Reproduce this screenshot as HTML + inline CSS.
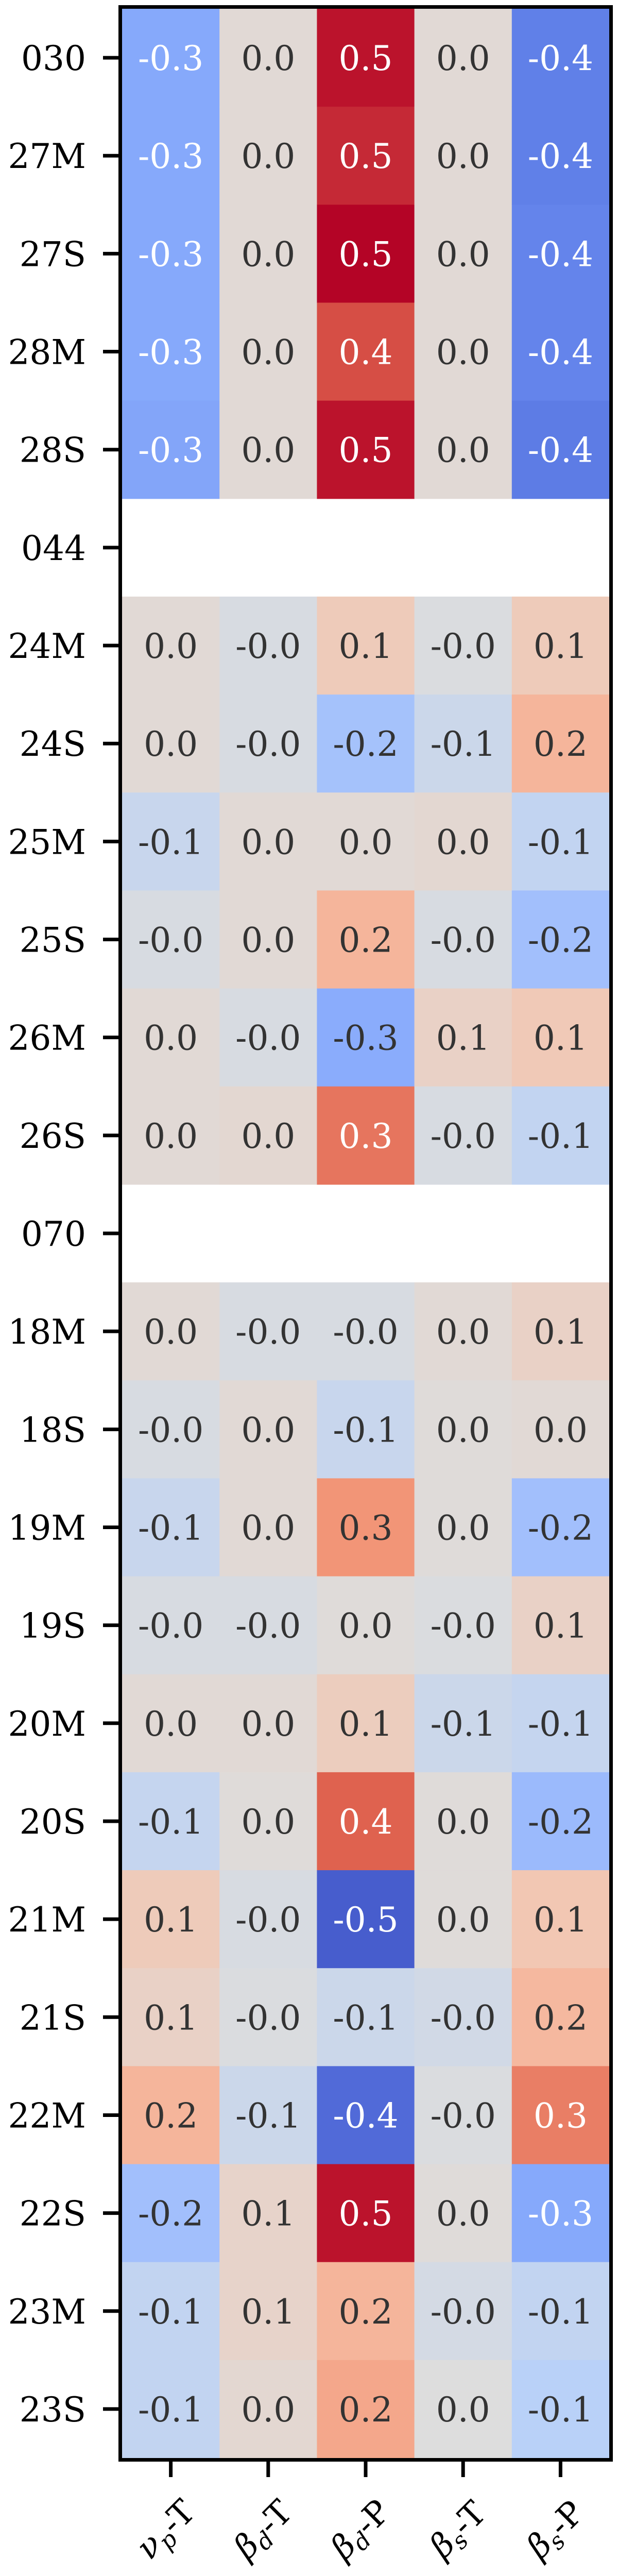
<!DOCTYPE html>
<html><head><meta charset="utf-8">
<style>
html,body{margin:0;padding:0;background:#fff;width:1200px;height:5004px;overflow:hidden;}
svg{display:block;}
text{font-family:"DejaVu Serif","Liberation Serif",serif;}
</style></head>
<body>
<svg id="chart" xmlns="http://www.w3.org/2000/svg" width="1200" height="5004" viewBox="0 0 1200 5004">
<rect x="0" y="0" width="1200" height="5004" fill="#fff"/>
<g id="cells"></g>
<g id="yaxis"></g>
<g id="xaxis"></g>
<rect x="233.5" y="13.5" width="953" height="4761" fill="none" stroke="#000" stroke-width="7"/>
</svg>
<script>
const rowLabels = ["030","27M","27S","28M","28S","044","24M","24S","25M","25S","26M","26S","070","18M","18S","19M","19S","20M","20S","21M","21S","22M","22S","23M","23S"];
const colLabels = [["ν","p","-T"],["β","d","-T"],["β","d","-P"],["β","s","-T"],["β","s","-P"]];
const colVT  = [-0.27,-0.27,-0.27,-0.27,-0.28,null, 0.02, 0.02,-0.07,-0.02, 0.02, 0.02,null, 0.02,-0.02,-0.07,-0.02, 0.02,-0.08, 0.09, 0.06, 0.17,-0.19,-0.09,-0.09];
const colBdT = [ 0.02, 0.02, 0.02, 0.02, 0.02,null,-0.02,-0.02, 0.02, 0.02,-0.02, 0.03,null,-0.02, 0.02, 0.02,-0.02, 0.02, 0.01,-0.02,-0.01,-0.06, 0.05, 0.05, 0.03];
const colBdP = [ 0.48, 0.45, 0.51, 0.40, 0.48,null, 0.09,-0.18, 0.02, 0.17,-0.26, 0.33,null,-0.02,-0.07, 0.26, 0.01, 0.08, 0.37,-0.46,-0.06,-0.43, 0.48, 0.17, 0.21];
const colBsT = [ 0.02, 0.02, 0.02, 0.02, 0.02,null,-0.01,-0.06, 0.03,-0.02, 0.06,-0.02,null, 0.02, 0.01, 0.01,-0.01,-0.06, 0.01, 0.01,-0.04,-0.01, 0.01,-0.03, 0.00];
const colBsP = [-0.38,-0.38,-0.37,-0.37,-0.39,null, 0.09, 0.17,-0.09,-0.19, 0.10,-0.09,null, 0.06, 0.02,-0.19, 0.06,-0.08,-0.21, 0.11, 0.16, 0.31,-0.27,-0.09,-0.12];
const columns = [colVT, colBdT, colBdP, colBsT, colBsP];
const vmin = -0.5, vmax = 0.5;

const X0 = 237, Y0 = 17, CW = 189.2, RH = (4771 - 17) / rowLabels.length;
function xPos(i){ return X0 + i*CW; }
function yPos(j){ return Y0 + j*RH; }
const stops = [[59,76,192],[98,130,234],[141,176,254],[184,208,249],[221,221,221],[245,196,173],[244,154,123],[222,96,77],[180,4,38]];
function cmap(v){
  let t = (v - vmin)/(vmax - vmin); t = Math.max(0, Math.min(1, t));
  const p = t*(stops.length-1); const k = Math.min(Math.floor(p), stops.length-2); const f = p-k;
  return stops[k].map((c,n)=>Math.round(c + (stops[k+1][n]-c)*f));
}
function lum(c){
  const l = c.map(x=>{x/=255; return x<=0.03928? x/12.92 : Math.pow((x+0.055)/1.055,2.4);});
  return 0.2126*l[0]+0.7152*l[1]+0.0722*l[2];
}
const NS = "http://www.w3.org/2000/svg";
const cells = document.getElementById('cells');
columns.forEach((col,i)=>{
  col.forEach((v,j)=>{
    if(v===null) return;
    const c = cmap(v);
    const r = document.createElementNS(NS,'rect');
    r.setAttribute('x', xPos(i)); r.setAttribute('y', yPos(j));
    r.setAttribute('width', CW+0.6); r.setAttribute('height', RH+0.6);
    r.setAttribute('fill', `rgb(${c[0]},${c[1]},${c[2]})`);
    
    
    cells.appendChild(r);
    const t = document.createElementNS(NS,'text');
    t.setAttribute('x', xPos(i)+CW/2); t.setAttribute('y', yPos(j)+RH/2+24);
    t.setAttribute('text-anchor','middle'); t.setAttribute('font-size','66');
    t.setAttribute('fill', lum(c) < 0.408 ? '#ffffff' : '#333333');
    t.textContent = v.toFixed(1);
    
    
    cells.appendChild(t);
  });
});
const ya = document.getElementById('yaxis');
rowLabels.forEach((lab,j)=>{
  const cy = yPos(j)+RH/2;
  const tk = document.createElementNS(NS,'line');
  tk.setAttribute('x1',200); tk.setAttribute('x2',233); tk.setAttribute('y1',cy); tk.setAttribute('y2',cy);
  tk.setAttribute('stroke','#000'); tk.setAttribute('stroke-width','7');
  
  
  ya.appendChild(tk);
  const t = document.createElementNS(NS,'text');
  t.setAttribute('x',167); t.setAttribute('y',cy+24);
  t.setAttribute('text-anchor','end'); t.setAttribute('font-size','66'); t.setAttribute('fill','#000');
  t.textContent = lab;
  
  
  ya.appendChild(t);
});
const xa = document.getElementById('xaxis');
colLabels.forEach((lab,i)=>{
  const cx = xPos(i)+CW/2;
  const tk = document.createElementNS(NS,'line');
  tk.setAttribute('x1',cx); tk.setAttribute('x2',cx); tk.setAttribute('y1',4778); tk.setAttribute('y2',4808);
  tk.setAttribute('stroke','#000'); tk.setAttribute('stroke-width','7');
  
  
  xa.appendChild(tk);
  const t = document.createElementNS(NS,'text');
  const lx = cx-9, ly = 4911;
  t.setAttribute('x',lx); t.setAttribute('y',ly+20);
  t.setAttribute('text-anchor','middle'); t.setAttribute('font-size','64'); t.setAttribute('fill','#000');
  t.setAttribute('transform',`rotate(-45 ${lx} ${ly})`);
  t.innerHTML = `<tspan font-style="italic">${lab[0]}</tspan><tspan font-style="italic" font-size="45" dy="12">${lab[1]}</tspan><tspan dy="-12">${lab[2]}</tspan>`;
  
  
  xa.appendChild(t);
});
</script>
</body></html>
